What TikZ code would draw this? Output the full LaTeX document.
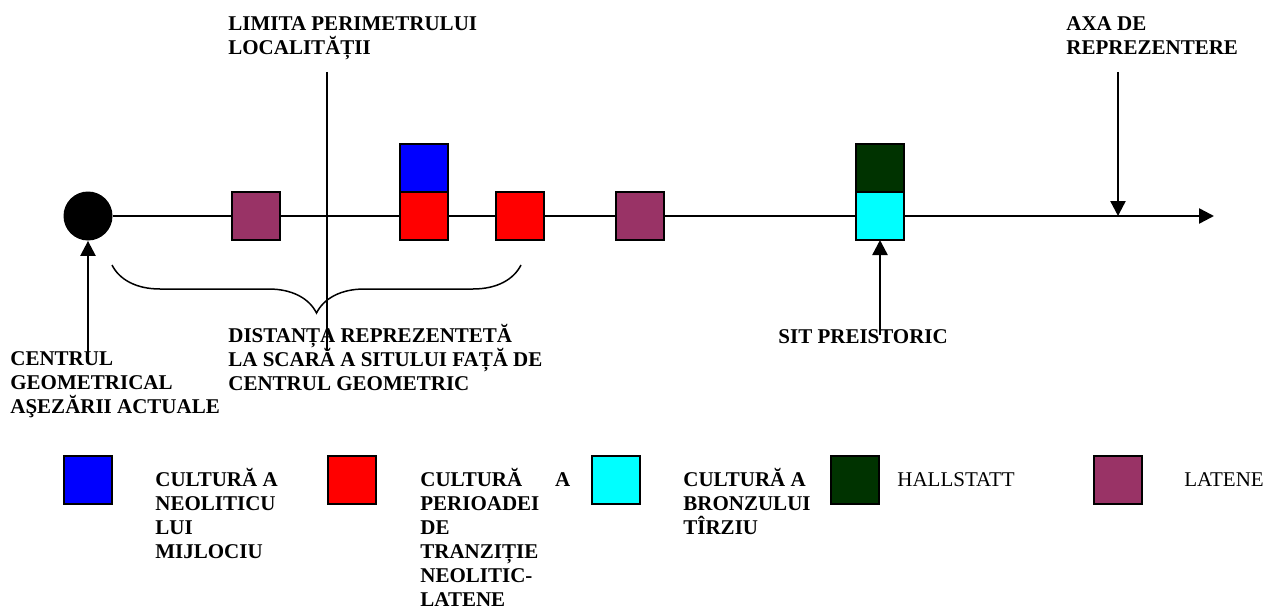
\documentclass[tikz,border=0pt]{standalone}
\usepackage{fontspec}
\setmainfont{Liberation Serif}
\usetikzlibrary{arrows.meta, positioning, decorations.pathreplacing}

\definecolor{latene}{HTML}{993366}
\definecolor{hallstatt}{HTML}{003300}
\definecolor{turcoaz}{RGB}{0,255,255}
\definecolor{rosu}{RGB}{255,0,0}
\definecolor{albastru}{RGB}{0,0,255}

\begin{document}
\begin{tikzpicture}[
    x=0.5pt, y=-0.5pt,
    font=\fontsize{10.5}{12}\selectfont\bfseries,
    patrat/.style={rectangle, draw, line width=1pt, minimum width=24pt, minimum height=24pt, inner sep=0pt, outer sep=0pt},
    eticheta/.style={anchor=base west, inner sep=0pt, align=left},
    subtire/.style={font=\fontsize{10.5}{12}\selectfont\mdseries},
    sageata/.style={line width=1.2pt, -{Triangle[length=7.5pt, width=7.5pt]}},
    linie/.style={line width=1pt},
    acolada/.style={line width=0.75pt, decorate, decoration={brace, mirror, amplitude=24pt}}
]
\useasboundingbox (0,0) rectangle (1273,610);

% titluri sus (ancora = ultimul rand)
\node[eticheta] (limita) at (228,55) {LIMITA PERIMETRULUI\\LOCALITĂȚII};
\node[eticheta] (axa) at (1066,55) {AXA DE\\REPREZENTERE};

% axa cu centrul geometric
\node[circle, fill=black, minimum size=24.5pt, inner sep=0pt] (centru) at (88,216) {};
\coordinate (capat) at (1214,216);
\draw[sageata] (centru) -- (capat);

% situri pe axa
\node[patrat, fill=latene] (lat1) at (256,216) {};
\node[patrat, fill=rosu] (tranz1) at (424,216) {};
\node[patrat, fill=albastru, above=0pt of tranz1] (neo1) {};
\node[patrat, fill=rosu] (tranz2) at (520,216) {};
\node[patrat, fill=latene] (lat2) at (640,216) {};
\node[patrat, fill=turcoaz] (bronz1) at (880,216) {};
\node[patrat, fill=hallstatt, above=0pt of bronz1] (hall1) {};

% limita localitatii
\coordinate (limSus) at (327,72);
\coordinate (limJos) at (327,350);
\draw[linie] (limSus) -- (limJos);

% acolada
\coordinate (acSt) at (112,265);
\coordinate (acDr) at (521,265);
\draw[acolada] (acSt) -- (acDr);

% sageti
\coordinate (axaSus) at (1118,72);
\coordinate (axaPct) at (1118,216);
\draw[sageata] (axaSus) -- (axaPct);
\coordinate (sitJos) at (880,335);
\draw[sageata] (sitJos) -- (bronz1.south);
\coordinate (centruJos) at (88,355);
\draw[sageata] (centruJos) -- (centru.south);

% etichete jos
\node[eticheta] (distanta) at (228,390) {DISTANȚA REPREZENTETĂ\\LA SCARĂ A SITULUI FAȚĂ DE\\CENTRUL GEOMETRIC};
\node[eticheta] (centrulTxt) at (10,413) {CENTRUL\\GEOMETRICAL\\AŞEZĂRII ACTUALE};
\node[eticheta] (sit) at (778,343) {SIT PREISTORIC};

% legenda
\node[patrat, fill=albastru] (legNeo) at (88,480) {};
\node[eticheta] (txtNeo) at (155,558) {CULTURĂ A\\NEOLITICU\\LUI\\MIJLOCIU};
\node[patrat, fill=rosu] (legTranz) at (352,480) {};
\node[eticheta, text width=75pt] (txtTranz) at (420,486) {CULTURĂ\hfill A\\PERIOADEI\\DE\\TRANZIȚIE\\NEOLITIC-\\LATENE};
\node[patrat, fill=turcoaz] (legBronz) at (616,480) {};
\node[eticheta] (txtBronz) at (683,534) {CULTURĂ A\\BRONZULUI\\TÎRZIU};
\node[patrat, fill=hallstatt] (legHall) at (855,480) {};
\node[eticheta, subtire] (txtHall) at (897,486) {HALLSTATT};
\node[patrat, fill=latene] (legLat) at (1118,480) {};
\node[eticheta, subtire] (txtLat) at (1184,486) {LATENE};

\end{tikzpicture}
\end{document}
